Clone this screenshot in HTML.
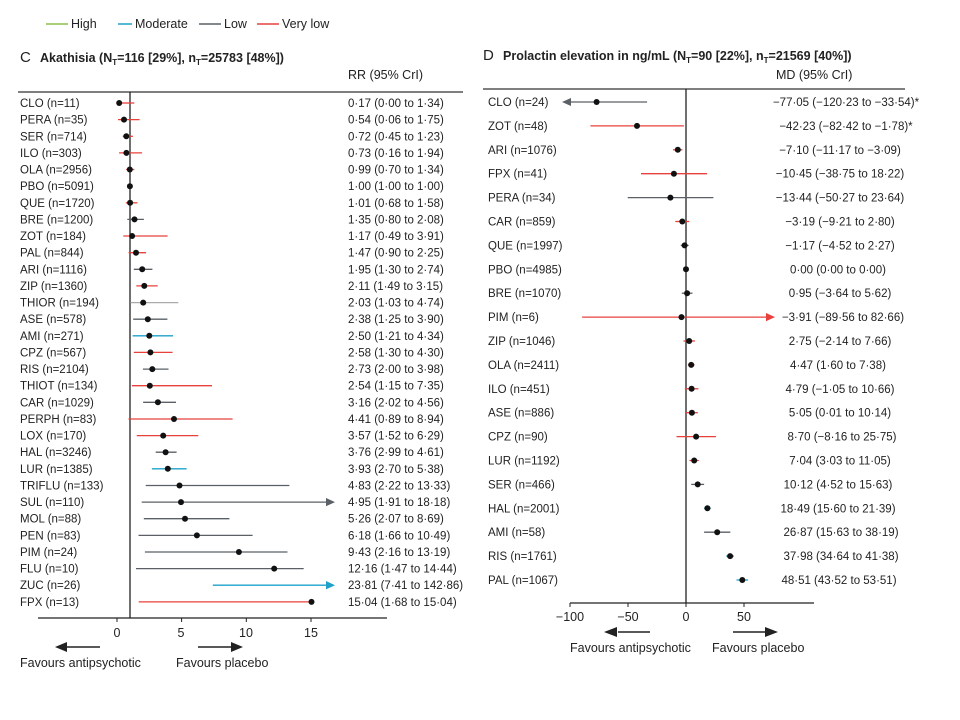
<!DOCTYPE html>
<html><head><meta charset="utf-8"><style>
html,body{margin:0;padding:0;background:#fff}
svg{display:block;font-family:"Liberation Sans",sans-serif;fill:#222}
</style></head><body>
<svg width="960" height="720" viewBox="0 0 960 720" xmlns="http://www.w3.org/2000/svg">
<g font-size="12.5">
<line x1="46" y1="24" x2="68" y2="24" stroke="#8cbf4a" stroke-width="1.5"/><text x="71" y="28">High</text>
<line x1="118" y1="24" x2="132" y2="24" stroke="#1ea0c8" stroke-width="1.5"/><text x="135" y="28">Moderate</text>
<line x1="199" y1="24" x2="221" y2="24" stroke="#5a6066" stroke-width="1.5"/><text x="224" y="28">Low</text>
<line x1="257" y1="24" x2="279" y2="24" stroke="#e8413c" stroke-width="1.5"/><text x="282" y="28">Very low</text>
</g>
<text x="20" y="62" font-size="15">C</text>
<text x="40" y="62" font-size="12.5" font-weight="bold">Akathisia (N<tspan font-size="8" dy="3">T</tspan><tspan dy="-3">=116 [29%], n</tspan><tspan font-size="8" dy="3">T</tspan><tspan dy="-3">=25783 [48%])</tspan></text>
<text x="348" y="79" font-size="12.5">RR (95% CrI)</text>
<line x1="18" y1="92" x2="463" y2="92" stroke="#333" stroke-width="1.3"/>
<text x="483" y="60" font-size="15">D</text>
<text x="503" y="60" font-size="12.5" font-weight="bold">Prolactin elevation in ng/mL (N<tspan font-size="8" dy="3">T</tspan><tspan dy="-3">=90 [22%], n</tspan><tspan font-size="8" dy="3">T</tspan><tspan dy="-3">=21569 [40%])</tspan></text>
<text x="776" y="79" font-size="12.5">MD (95% CrI)</text>
<line x1="483" y1="89" x2="905" y2="89" stroke="#333" stroke-width="1.3"/>

<line x1="130" y1="92" x2="130" y2="618" stroke="#222" stroke-width="1.3"/>
<line x1="38" y1="618" x2="387" y2="618" stroke="#222" stroke-width="1.3"/>
<g stroke="#222"><line x1="117" y1="618" x2="117" y2="622"/><line x1="181.6" y1="618" x2="181.6" y2="622"/><line x1="246.3" y1="618" x2="246.3" y2="622"/><line x1="311" y1="618" x2="311" y2="622"/></g>
<g font-size="12.5" text-anchor="middle"><text x="117" y="637">0</text><text x="181" y="637">5</text><text x="246" y="637">10</text><text x="311" y="637">15</text></g>
<line x1="64" y1="647" x2="100" y2="647" stroke="#222" stroke-width="1.5"/><polygon points="55,647 67,642 67,652" fill="#222"/>
<line x1="198" y1="647" x2="234" y2="647" stroke="#222" stroke-width="1.5"/><polygon points="243,647 231,642 231,652" fill="#222"/>
<text x="20" y="667" font-size="12.5">Favours antipsychotic</text>
<text x="176" y="667" font-size="12.5">Favours placebo</text>

<line x1="686" y1="89" x2="686" y2="603" stroke="#222" stroke-width="1.3"/>
<line x1="570" y1="603" x2="814" y2="603" stroke="#222" stroke-width="1.3"/>
<g stroke="#222"><line x1="570" y1="603" x2="570" y2="607"/><line x1="628" y1="603" x2="628" y2="607"/><line x1="686" y1="603" x2="686" y2="607"/><line x1="744" y1="603" x2="744" y2="607"/></g>
<g font-size="12.5" text-anchor="middle"><text x="570" y="621">−100</text><text x="628" y="621">−50</text><text x="686" y="621">0</text><text x="744" y="621">50</text></g>
<line x1="618" y1="632" x2="650" y2="632" stroke="#222" stroke-width="1.5"/><polygon points="604,632 617,627 617,637" fill="#222"/>
<line x1="733" y1="632" x2="765" y2="632" stroke="#222" stroke-width="1.5"/><polygon points="778,632 765,627 765,637" fill="#222"/>
<text x="570" y="652" font-size="12.5">Favours antipsychotic</text>
<text x="712" y="652" font-size="12.5">Favours placebo</text>

<g stroke-width="1.3">
<line x1="119.2" y1="103" x2="134.3" y2="103" stroke="#e8413c"/>
<line x1="118" y1="119.6" x2="139.6" y2="119.6" stroke="#e8413c"/>
<line x1="122.8" y1="136.3" x2="132.9" y2="136.3" stroke="#e8413c"/>
<line x1="119.1" y1="152.9" x2="142.1" y2="152.9" stroke="#e8413c"/>
<line x1="126.1" y1="169.5" x2="134.3" y2="169.5" stroke="#e8413c"/>
<line x1="125.8" y1="202.8" x2="137.4" y2="202.8" stroke="#e8413c"/>
<line x1="127.3" y1="219.4" x2="143.9" y2="219.4" stroke="#5a6066"/>
<line x1="123.3" y1="236" x2="167.6" y2="236" stroke="#e8413c"/>
<line x1="128.6" y1="252.7" x2="146.1" y2="252.7" stroke="#e8413c"/>
<line x1="133.8" y1="269.3" x2="152.4" y2="269.3" stroke="#5a6066"/>
<line x1="136.3" y1="285.9" x2="157.7" y2="285.9" stroke="#e8413c"/>
<line x1="130.3" y1="302.6" x2="178.3" y2="302.6" stroke="#aaa"/>
<line x1="133.2" y1="319.2" x2="167.4" y2="319.2" stroke="#5a6066"/>
<line x1="132.6" y1="335.8" x2="173.1" y2="335.8" stroke="#1ea0c8"/>
<line x1="133.8" y1="352.4" x2="172.6" y2="352.4" stroke="#e8413c"/>
<line x1="142.9" y1="369.1" x2="168.5" y2="369.1" stroke="#5a6066"/>
<line x1="131.9" y1="385.7" x2="212" y2="385.7" stroke="#e8413c"/>
<line x1="143.1" y1="402.3" x2="176" y2="402.3" stroke="#5a6066"/>
<line x1="128.5" y1="419" x2="232.6" y2="419" stroke="#e8413c"/>
<line x1="136.7" y1="435.6" x2="198.3" y2="435.6" stroke="#e8413c"/>
<line x1="155.7" y1="452.2" x2="176.6" y2="452.2" stroke="#5a6066"/>
<line x1="151.9" y1="468.8" x2="186.6" y2="468.8" stroke="#1ea0c8"/>
<line x1="145.7" y1="485.5" x2="289.4" y2="485.5" stroke="#5a6066"/>
<line x1="141.7" y1="502.1" x2="328" y2="502.1" stroke="#5a6066"/>
<line x1="143.8" y1="518.7" x2="229.4" y2="518.7" stroke="#5a6066"/>
<line x1="138.5" y1="535.4" x2="252.6" y2="535.4" stroke="#5a6066"/>
<line x1="144.9" y1="552" x2="287.5" y2="552" stroke="#5a6066"/>
<line x1="136" y1="568.6" x2="303.7" y2="568.6" stroke="#5a6066"/>
<line x1="212.8" y1="585.2" x2="328" y2="585.2" stroke="#1ea0c8"/>
<line x1="138.7" y1="601.9" x2="311.5" y2="601.9" stroke="#e8413c"/>
</g>
<polygon points="335,502.1 326,498 326,506.2" fill="#5a6066"/>
<polygon points="335,585.2 326,581 326,589.4" fill="#1ea0c8"/>
<g fill="#111">
<circle cx="119.2" cy="103" r="3"/><circle cx="124" cy="119.6" r="3"/><circle cx="126.3" cy="136.3" r="3"/><circle cx="126.4" cy="152.9" r="3"/><circle cx="129.8" cy="169.5" r="3"/><circle cx="129.9" cy="186.2" r="3"/><circle cx="130.1" cy="202.8" r="3"/><circle cx="134.5" cy="219.4" r="3"/><circle cx="132.1" cy="236" r="3"/><circle cx="136" cy="252.7" r="3"/><circle cx="142.2" cy="269.3" r="3"/><circle cx="144.3" cy="285.9" r="3"/><circle cx="143.2" cy="302.6" r="3"/><circle cx="147.8" cy="319.2" r="3"/><circle cx="149.3" cy="335.8" r="3"/><circle cx="150.4" cy="352.4" r="3"/><circle cx="152.3" cy="369.1" r="3"/><circle cx="149.8" cy="385.7" r="3"/><circle cx="157.9" cy="402.3" r="3"/><circle cx="174" cy="419" r="3"/><circle cx="163.2" cy="435.6" r="3"/><circle cx="165.6" cy="452.2" r="3"/><circle cx="167.8" cy="468.8" r="3"/><circle cx="179.5" cy="485.5" r="3"/><circle cx="181" cy="502.1" r="3"/><circle cx="185" cy="518.7" r="3"/><circle cx="196.9" cy="535.4" r="3"/><circle cx="238.9" cy="552" r="3"/><circle cx="274.2" cy="568.6" r="3"/><circle cx="311.5" cy="601.9" r="3"/>
</g>
<g font-size="11.5">
<text x="20" y="107">CLO (n=11)</text><text x="348" y="107">0·17 (0·00 to 1·34)</text>
<text x="20" y="123.6">PERA (n=35)</text><text x="348" y="123.6">0·54 (0·06 to 1·75)</text>
<text x="20" y="140.3">SER (n=714)</text><text x="348" y="140.3">0·72 (0·45 to 1·23)</text>
<text x="20" y="156.9">ILO (n=303)</text><text x="348" y="156.9">0·73 (0·16 to 1·94)</text>
<text x="20" y="173.5">OLA (n=2956)</text><text x="348" y="173.5">0·99 (0·70 to 1·34)</text>
<text x="20" y="190.2">PBO (n=5091)</text><text x="348" y="190.2">1·00 (1·00 to 1·00)</text>
<text x="20" y="206.8">QUE (n=1720)</text><text x="348" y="206.8">1·01 (0·68 to 1·58)</text>
<text x="20" y="223.4">BRE (n=1200)</text><text x="348" y="223.4">1·35 (0·80 to 2·08)</text>
<text x="20" y="240">ZOT (n=184)</text><text x="348" y="240">1·17 (0·49 to 3·91)</text>
<text x="20" y="256.7">PAL (n=844)</text><text x="348" y="256.7">1·47 (0·90 to 2·25)</text>
<text x="20" y="273.3">ARI (n=1116)</text><text x="348" y="273.3">1·95 (1·30 to 2·74)</text>
<text x="20" y="289.9">ZIP (n=1360)</text><text x="348" y="289.9">2·11 (1·49 to 3·15)</text>
<text x="20" y="306.6">THIOR (n=194)</text><text x="348" y="306.6">2·03 (1·03 to 4·74)</text>
<text x="20" y="323.2">ASE (n=578)</text><text x="348" y="323.2">2·38 (1·25 to 3·90)</text>
<text x="20" y="339.8">AMI (n=271)</text><text x="348" y="339.8">2·50 (1·21 to 4·34)</text>
<text x="20" y="356.4">CPZ (n=567)</text><text x="348" y="356.4">2·58 (1·30 to 4·30)</text>
<text x="20" y="373.1">RIS (n=2104)</text><text x="348" y="373.1">2·73 (2·00 to 3·98)</text>
<text x="20" y="389.7">THIOT (n=134)</text><text x="348" y="389.7">2·54 (1·15 to 7·35)</text>
<text x="20" y="406.3">CAR (n=1029)</text><text x="348" y="406.3">3·16 (2·02 to 4·56)</text>
<text x="20" y="423">PERPH (n=83)</text><text x="348" y="423">4·41 (0·89 to 8·94)</text>
<text x="20" y="439.6">LOX (n=170)</text><text x="348" y="439.6">3·57 (1·52 to 6·29)</text>
<text x="20" y="456.2">HAL (n=3246)</text><text x="348" y="456.2">3·76 (2·99 to 4·61)</text>
<text x="20" y="472.8">LUR (n=1385)</text><text x="348" y="472.8">3·93 (2·70 to 5·38)</text>
<text x="20" y="489.5">TRIFLU (n=133)</text><text x="348" y="489.5">4·83 (2·22 to 13·33)</text>
<text x="20" y="506.1">SUL (n=110)</text><text x="348" y="506.1">4·95 (1·91 to 18·18)</text>
<text x="20" y="522.7">MOL (n=88)</text><text x="348" y="522.7">5·26 (2·07 to 8·69)</text>
<text x="20" y="539.4">PEN (n=83)</text><text x="348" y="539.4">6·18 (1·66 to 10·49)</text>
<text x="20" y="556">PIM (n=24)</text><text x="348" y="556">9·43 (2·16 to 13·19)</text>
<text x="20" y="572.6">FLU (n=10)</text><text x="348" y="572.6">12·16 (1·47 to 14·44)</text>
<text x="20" y="589.2">ZUC (n=26)</text><text x="348" y="589.2">23·81 (7·41 to 142·86)</text>
<text x="20" y="605.9">FPX (n=13)</text><text x="348" y="605.9">15·04 (1·68 to 15·04)</text>
</g>

<g stroke-width="1.3">
<line x1="570" y1="102" x2="647.1" y2="102" stroke="#5a6066"/>
<line x1="590.4" y1="125.9" x2="683.9" y2="125.9" stroke="#e8413c"/>
<line x1="673" y1="149.8" x2="682.4" y2="149.8" stroke="#e8413c"/>
<line x1="641" y1="173.7" x2="707.1" y2="173.7" stroke="#e8413c"/>
<line x1="627.7" y1="197.6" x2="713.4" y2="197.6" stroke="#5a6066"/>
<line x1="675.3" y1="221.5" x2="689.2" y2="221.5" stroke="#e8413c"/>
<line x1="680.8" y1="245.4" x2="688.6" y2="245.4" stroke="#5a6066"/>
<line x1="681.8" y1="293.2" x2="692.5" y2="293.2" stroke="#5a6066"/>
<line x1="582.1" y1="317.1" x2="768" y2="317.1" stroke="#e8413c"/>
<line x1="683.5" y1="341" x2="694.9" y2="341" stroke="#e8413c"/>
<line x1="687.9" y1="364.9" x2="694.6" y2="364.9" stroke="#e8413c"/>
<line x1="684.8" y1="388.8" x2="698.4" y2="388.8" stroke="#e8413c"/>
<line x1="686" y1="412.7" x2="697.8" y2="412.7" stroke="#e8413c"/>
<line x1="676.5" y1="436.6" x2="715.9" y2="436.6" stroke="#e8413c"/>
<line x1="689.5" y1="460.5" x2="698.8" y2="460.5" stroke="#e8413c"/>
<line x1="691.2" y1="484.4" x2="704.1" y2="484.4" stroke="#5a6066"/>
<line x1="704.1" y1="508.3" x2="710.8" y2="508.3" stroke="#1ea0c8"/>
<line x1="704.1" y1="532.2" x2="730.3" y2="532.2" stroke="#5a6066"/>
<line x1="726.2" y1="556.1" x2="734" y2="556.1" stroke="#1ea0c8"/>
<line x1="736.5" y1="580" x2="748.1" y2="580" stroke="#1ea0c8"/>
</g>
<polygon points="562,102 571,98 571,106" fill="#5a6066"/>
<polygon points="775,317.1 766,313 766,321.2" fill="#e8413c"/>
<g fill="#111">
<circle cx="596.6" cy="102" r="3"/><circle cx="637" cy="125.9" r="3"/><circle cx="677.8" cy="149.8" r="3"/><circle cx="673.9" cy="173.7" r="3"/><circle cx="670.4" cy="197.6" r="3"/><circle cx="682.3" cy="221.5" r="3"/><circle cx="684.6" cy="245.4" r="3"/><circle cx="686" cy="269.3" r="3"/><circle cx="687.1" cy="293.2" r="3"/><circle cx="681.5" cy="317.1" r="3"/><circle cx="689.2" cy="341" r="3"/><circle cx="691.2" cy="364.9" r="3"/><circle cx="691.6" cy="388.8" r="3"/><circle cx="691.9" cy="412.7" r="3"/><circle cx="696.1" cy="436.6" r="3"/><circle cx="694.2" cy="460.5" r="3"/><circle cx="697.7" cy="484.4" r="3"/><circle cx="707.4" cy="508.3" r="3"/><circle cx="717.2" cy="532.2" r="3"/><circle cx="730.1" cy="556.1" r="3"/><circle cx="742.3" cy="580" r="3"/>
</g>
<g font-size="11.5">
<text x="488" y="106">CLO (n=24)</text>
<text x="488" y="129.9">ZOT (n=48)</text>
<text x="488" y="153.8">ARI (n=1076)</text>
<text x="488" y="177.7">FPX (n=41)</text>
<text x="488" y="201.6">PERA (n=34)</text>
<text x="488" y="225.5">CAR (n=859)</text>
<text x="488" y="249.4">QUE (n=1997)</text>
<text x="488" y="273.3">PBO (n=4985)</text>
<text x="488" y="297.2">BRE (n=1070)</text>
<text x="488" y="321.1">PIM (n=6)</text>
<text x="488" y="345">ZIP (n=1046)</text>
<text x="488" y="368.9">OLA (n=2411)</text>
<text x="488" y="392.8">ILO (n=451)</text>
<text x="488" y="416.7">ASE (n=886)</text>
<text x="488" y="440.6">CPZ (n=90)</text>
<text x="488" y="464.5">LUR (n=1192)</text>
<text x="488" y="488.4">SER (n=466)</text>
<text x="488" y="512.3">HAL (n=2001)</text>
<text x="488" y="536.2">AMI (n=58)</text>
<text x="488" y="560.1">RIS (n=1761)</text>
<text x="488" y="584">PAL (n=1067)</text>
</g>
<g font-size="11.5" text-anchor="middle">
<text x="846" y="106">−77·05 (−120·23 to −33·54)*</text>
<text x="846" y="129.9">−42·23 (−82·42 to −1·78)*</text>
<text x="840" y="153.8">−7·10 (−11·17 to −3·09)</text>
<text x="840" y="177.7">−10·45 (−38·75 to 18·22)</text>
<text x="840" y="201.6">−13·44 (−50·27 to 23·64)</text>
<text x="840" y="225.5">−3·19 (−9·21 to 2·80)</text>
<text x="840" y="249.4">−1·17 (−4·52 to 2·27)</text>
<text x="838" y="273.3">0·00 (0·00 to 0·00)</text>
<text x="840" y="297.2">0·95 (−3·64 to 5·62)</text>
<text x="843" y="321.1">−3·91 (−89·56 to 82·66)</text>
<text x="840" y="345">2·75 (−2·14 to 7·66)</text>
<text x="838" y="368.9">4·47 (1·60 to 7·38)</text>
<text x="840" y="392.8">4·79 (−1·05 to 10·66)</text>
<text x="840" y="416.7">5·05 (0·01 to 10·14)</text>
<text x="842" y="440.6">8·70 (−8·16 to 25·75)</text>
<text x="840" y="464.5">7·04 (3·03 to 11·05)</text>
<text x="838" y="488.4">10·12 (4·52 to 15·63)</text>
<text x="838" y="512.3">18·49 (15·60 to 21·39)</text>
<text x="841" y="536.2">26·87 (15·63 to 38·19)</text>
<text x="841" y="560.1">37·98 (34·64 to 41·38)</text>
<text x="839" y="584">48·51 (43·52 to 53·51)</text>
</g>
</svg>
</body></html>
